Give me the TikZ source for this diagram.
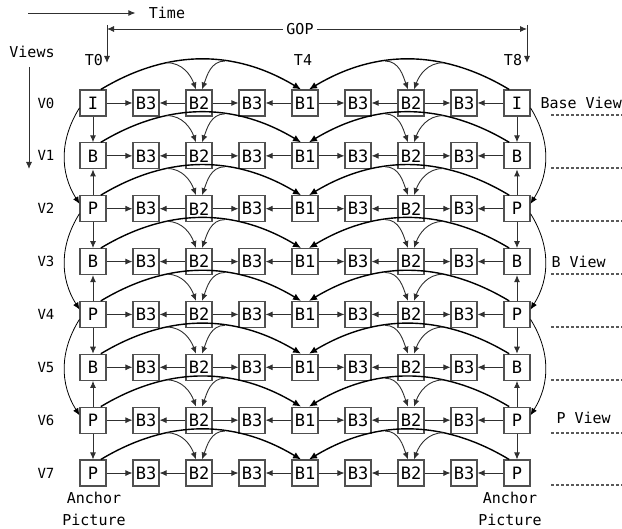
\documentclass[tikz,border=0pt]{standalone}
\usepackage{fontspec}
\setmainfont{DejaVu Sans Mono}
\usepackage{tikz}
\usetikzlibrary{arrows.meta,positioning}
\definecolor{framegray}{HTML}{505050}
\definecolor{linegray}{HTML}{303030}

\begin{document}
\begin{tikzpicture}[x=1pt,y=1pt,
  frame/.style={draw=framegray, fill=white, line width=1.1pt, minimum size=26pt,
                inner sep=0pt, font=\fontsize{17}{17}\selectfont},
  arr/.style={-{Latex[length=7pt,width=6pt]}, line width=0.9pt, draw=linegray},
  arc/.style={-{Latex[length=8pt,width=7pt]}, line width=1.4pt},
  side/.style={-{Latex[length=7pt,width=6pt]}, line width=0.8pt},
  lbl/.style={font=\fontsize{15}{22}\selectfont},
  sep/.style={dash pattern=on 3pt off 2pt, line width=2pt, draw=linegray!80}
]
  \useasboundingbox (0,0) rectangle (622,-529);

  % header: time axis, views axis, GOP span
  \node[lbl] (time)  at (167,-13) {Time};
  \coordinate (ts) at (28,-13);
  \draw[arr] (ts) -- ([xshift=-10pt]time.west);
  \node[lbl] (views) at (32,-52) {Views};
  \coordinate (vtop) at (29,-67);
  \coordinate (vend) at (29,-169);
  \draw[arr] (vtop) -- (vend);
  \node[lbl] (gop) at (300,-29) {GOP};
  \coordinate (gl) at (107,-29);
  \coordinate (gr) at (527,-29);
  \coordinate (gl0) at (107,-63);
  \coordinate (gr0) at (527,-63);
  \draw[arr] (gop) -- (gl);
  \draw[arr] (gop) -- (gr);
  \draw[arr] ([yshift=4pt]gl) -- (gl0);
  \draw[arr] ([yshift=4pt]gr) -- (gr0);
  \node[lbl] (T0) at (94,-60) {T0};
  \node[lbl] (T4) at (303,-60) {T4};
  \node[lbl] (T8) at (513,-60) {T8};

  % pictures
  \foreach \r/\a in {0/I,1/B,2/P,3/B,4/P,5/B,6/P,7/P}{
    \foreach \c/\t in {0/\a,1/B3,2/B2,3/B3,4/B1,5/B3,6/B2,7/B3,8/\a}
      \node[frame] (v\r t\c) at (93+53*\c,-103-52.86*\r) {\t};
    \node[lbl,font=\fontsize{14}{14}\selectfont] (v\r) at (46,-103-52.86*\r) {V\r};
  }
  \foreach \y in {115,168,221,274,327,380,433,485}
    \draw[sep] (551,-\y) -- (622,-\y);

  % temporal prediction
  \foreach \r in {0,...,7}{
    \foreach \c [evaluate=\c as \p using int(\c-1), evaluate=\c as \n using int(\c+1)] in {1,3,5,7}{
      \draw[arr] (v\r t\p) -- (v\r t\c);
      \draw[arr] (v\r t\n) -- (v\r t\c);
    }
    \draw[arc] (v\r t0.60) to[bend left=31] coordinate[pos=0.33] (ga\r)
      coordinate[pos=0.62] (gb\r) ([xshift=-4pt]v\r t4.north);
    \draw[arc] (v\r t8.120) to[bend right=31] coordinate[pos=0.33] (ha\r)
      coordinate[pos=0.62] (hb\r) ([xshift=4pt]v\r t4.north);
    \draw[arr] (ga\r) to[out=0,in=110] ([xshift=-3pt]v\r t2.north);
    \draw[arr] (gb\r) to[out=180,in=70] ([xshift=3pt]v\r t2.north);
    \draw[arr] (hb\r) to[out=0,in=110] ([xshift=-3pt]v\r t6.north);
    \draw[arr] (ha\r) to[out=180,in=70] ([xshift=3pt]v\r t6.north);
  }

  % inter-view prediction
  \foreach \c in {0,8}{
    \draw[arr] (v0t\c) -- (v1t\c);
    \foreach \r [evaluate=\r as \p using int(\r-1), evaluate=\r as \n using int(\r+1)] in {2,4,6}{
      \draw[arr] (v\r t\c) -- (v\p t\c);
      \draw[arr] (v\r t\c) -- (v\n t\c);
    }
  }
  \foreach \r [evaluate=\r as \n using int(\r+2)] in {0,2,4}{
    \draw[side] (v\r t0.200) to[bend right=32] (v\n t0.160);
    \draw[side] (v\r t8.340) to[bend left=32] (v\n t8.20);
  }

  % side notes
  \node[lbl,align=center] (anc0) at (94,-509) {Anchor\\Picture};
  \node[lbl,align=center] (anc8) at (510,-509) {Anchor\\Picture};
  \node[lbl,anchor=west] (base)  at (537,-103) {Base View};
  \node[lbl,anchor=west] (bview) at (548,-262) {B View};
  \node[lbl,anchor=west] (pview) at (553,-418) {P View};
\end{tikzpicture}
\end{document}
